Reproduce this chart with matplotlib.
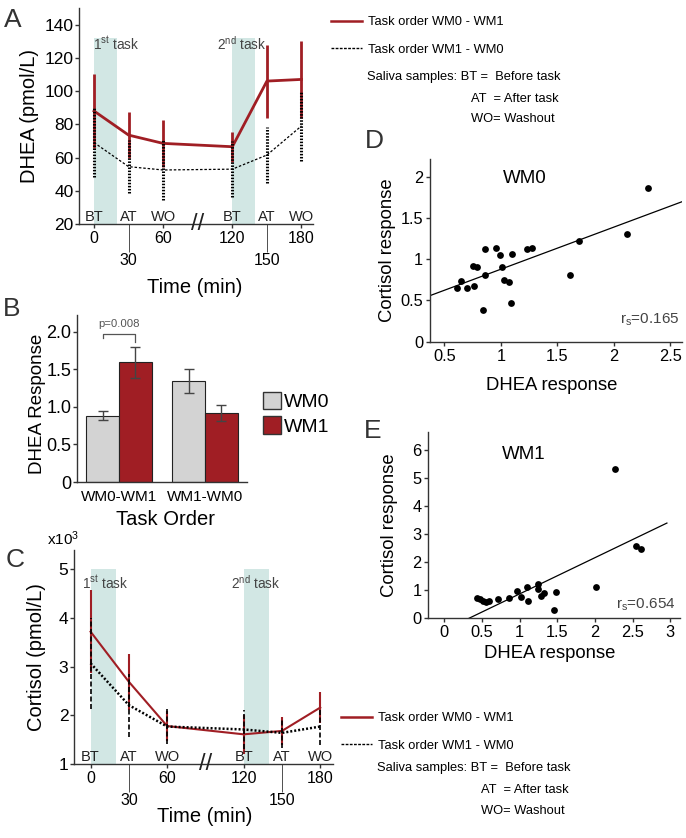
import matplotlib
matplotlib.use("Agg")
import matplotlib.pyplot as plt
import numpy as np
from matplotlib.lines import Line2D
from matplotlib.patches import Patch

plt.rcParams['font.family'] = ['Liberation Sans', 'DejaVu Sans']
plt.rcParams['mathtext.fontset'] = 'custom'
plt.rcParams['mathtext.rm'] = 'Liberation Sans'
plt.rcParams['mathtext.it'] = 'Liberation Sans'

# --- Painel A: DHEA (pmol/L) ao longo do tempo ---
tempos = [0, 30, 60, 120, 150, 180]
amostras = ['BT', 'AT', 'WO', 'BT', 'AT', 'WO']
dhea_wm0_wm1 = [88, 73.5, 68.5, 66.5, 106, 107]
dhea_wm0_wm1_err = [22, 14, 14, 9, 22, 23]
dhea_wm1_wm0 = [69, 54.5, 52.5, 53, 61.5, 79]
dhea_wm1_wm0_err = [21, 16, 18, 17, 17, 21]

# --- Painel B: resposta DHEA por ordem de tarefa ---
ordens = ['WM0-WM1', 'WM1-WM0']
resp_wm0 = [0.88, 1.34]
resp_wm0_err = [0.06, 0.16]
resp_wm1 = [1.59, 0.92]
resp_wm1_err = [0.21, 0.11]

# --- Painel C: cortisol (x10^3 pmol/L) ---
cort_wm0_wm1 = [3.72, 2.69, 1.78, 1.61, 1.68, 2.16]
cort_wm0_wm1_err = [0.85, 0.58, 0.30, 0.40, 0.28, 0.32]
cort_wm1_wm0 = [3.07, 2.21, 1.77, 1.71, 1.64, 1.77]
cort_wm1_wm0_err = [0.94, 0.65, 0.36, 0.41, 0.31, 0.38]

# --- Painel D: WM0, resposta DHEA x cortisol ---
d_dhea = [0.61, 0.65, 0.70, 0.75, 0.79, 0.76, 0.86, 0.86, 0.84, 0.96, 0.99,
          1.01, 1.03, 1.07, 1.10, 1.09, 1.23, 1.28, 1.61, 1.69, 2.12, 2.30]
d_cort = [0.65, 0.73, 0.65, 0.92, 0.91, 0.67, 1.12, 0.81, 0.38, 1.14, 1.05,
          0.91, 0.75, 0.72, 1.06, 0.47, 1.12, 1.14, 0.81, 1.22, 1.30, 1.86]
d_reta_x = [0.37, 2.63]
d_reta_y = [0.557, 1.71]

# --- Painel E: WM1, resposta DHEA x cortisol ---
e_dhea = [0.44, 0.47, 0.51, 0.55, 0.60, 0.72, 0.86, 0.97, 1.02, 1.10, 1.11,
          1.25, 1.25, 1.28, 1.32, 1.49, 1.46, 2.02, 2.26, 2.55, 2.61]
e_cort = [0.72, 0.68, 0.63, 0.57, 0.61, 0.69, 0.74, 0.98, 0.76, 1.13, 0.63,
          1.22, 1.05, 0.81, 0.90, 0.94, 0.30, 1.10, 5.33, 2.59, 2.46]
e_reta_x = [0.33, 2.955]
e_reta_y = [0.0, 3.40]

VERMELHO = '#a01e24'
CINZA = '#d3d3d3'
SOMBRA = '#d2e7e4'
EIXO = '#333333'


def estilo(ax):
    for lado in ['top', 'right']:
        ax.spines[lado].set_visible(False)
    for lado in ['left', 'bottom']:
        ax.spines[lado].set_color(EIXO)
        ax.spines[lado].set_linewidth(1.0)
    ax.tick_params(color=EIXO, width=1.0)


def painel_tempo(ax, y1, e1, y2, e2, ylim, topo_sombra, tarefa_y, lw_verm, estilo_preto):
    ymin, ymax = ylim
    frac = (topo_sombra - ymin) / (ymax - ymin)
    ax.axvspan(0, 20, ymin=0, ymax=frac, color=SOMBRA, lw=0, zorder=0)
    ax.axvspan(120, 140, ymin=0, ymax=frac, color=SOMBRA, lw=0, zorder=0)

    ax.errorbar(tempos, y1, yerr=e1, color=VERMELHO, lw=lw_verm,
                elinewidth=lw_verm, capsize=0, zorder=3)

    y2 = np.array(y2)
    e2 = np.array(e2)
    ax.plot(tempos, y2, color='k', zorder=4, **estilo_preto['linha'])
    ax.vlines(tempos, y2 - e2, y2 + e2, color='k', zorder=4, **estilo_preto['barra'])

    ax.set_xlim(-13, 190)
    ax.set_ylim(ymin, ymax)
    ax.set_xticks([0, 60, 120, 180], labels=['0', '60', '120', '180'])
    ax.set_xticks([30, 150], labels=['30', '150'], minor=True)
    ax.tick_params(axis='x', which='major', length=3, pad=2, labelsize=11.5)
    ax.tick_params(axis='x', which='minor', length=20, pad=1, labelsize=11.5, color=EIXO)
    ax.tick_params(axis='y', length=3, pad=1, labelsize=12.5)

    for t, s in zip(tempos, amostras):
        ax.text(t, ymin, s, ha='center', va='bottom', fontsize=10.5, color='#222222')
    ax.text(90, ymin, '//', ha='center', va='center', fontsize=17, color='#222222')

    ax.text(tarefa_y[0], tarefa_y[2], r'1$^{st}$ task', fontsize=9.8, color='#444444', va='center')
    ax.text(tarefa_y[1], tarefa_y[2], r'2$^{nd}$ task', fontsize=9.8, color='#444444', va='center')
    estilo(ax)


def legenda_tempo(fig, x0, y0, dy_saliva):
    handles = [Line2D([], [], color=VERMELHO, lw=1.8),
               Line2D([], [], color='k', lw=1.0, ls=(0, (2, 1)))]
    fig.legend(handles, ['Task order WM0 - WM1', 'Task order WM1 - WM0'],
               loc='upper left', bbox_to_anchor=(x0 / 686, 1 - y0 / 838),
               frameon=False, fontsize=9.3, handlelength=2.4, handletextpad=0.45,
               labelspacing=1.23, borderpad=0, borderaxespad=0)
    xt = x0 + 36
    ys = [y0 + dy_saliva[0], y0 + dy_saliva[1], y0 + dy_saliva[2]]
    fig.text(xt / 686, 1 - ys[0] / 838, 'Saliva samples: BT =  Before task', fontsize=9.3, va='center')
    fig.text((xt + 104) / 686, 1 - ys[1] / 838, 'AT  = After task', fontsize=9.3, va='center')
    fig.text((xt + 104) / 686, 1 - ys[2] / 838, 'WO= Washout', fontsize=9.3, va='center')


def dispersao(ax, x, y, rx, ry, xlim, ylim, xt, yt, nome, pos_nome, rs, pos_rs):
    ax.scatter(x, y, s=24, color='k', zorder=3, linewidths=0)
    ax.plot(rx, ry, color='k', lw=0.9)
    ax.set_xlim(*xlim)
    ax.set_ylim(*ylim)
    ax.set_xticks(xt, labels=[f'{v:g}' for v in xt])
    ax.set_yticks(yt, labels=[f'{v:g}' for v in yt])
    ax.tick_params(axis='both', length=3, pad=2, labelsize=11.8)
    ax.text(pos_nome[0], pos_nome[1], nome, ha='center', va='center', fontsize=13.5)
    ax.text(pos_rs[0], pos_rs[1], r'r$_\mathrm{s}$=' + rs, transform=ax.transAxes,
            ha='right', va='center', fontsize=11, color='#444444')
    ax.set_ylabel('Cortisol response', fontsize=13.3)
    ax.set_xlabel('DHEA response', fontsize=13.3)
    estilo(ax)


def main():
    fig = plt.figure(figsize=(6.86, 8.38), dpi=100)

    # Painel A
    ax_a = fig.add_axes([0.1152, 0.7327, 0.3411, 0.2578])
    painel_tempo(ax_a, dhea_wm0_wm1, dhea_wm0_wm1_err, dhea_wm1_wm0, dhea_wm1_wm0_err,
                 (20, 150), 132, (-0.5, 107, 128.7), 2.0,
                 {'linha': dict(lw=0.9, ls=(0, (2, 1.5))),
                  'barra': dict(lw=2.2, linestyles=(0, (0.5, 0.5)))})
    ax_a.set_yticks(range(20, 141, 20))
    ax_a.set_ylabel('DHEA (pmol/L)', fontsize=14.5)
    ax_a.yaxis.set_label_coords(-0.172, 0.5)
    ax_a.set_xlabel('Time (min)', fontsize=14.5)
    ax_a.xaxis.set_label_coords(0.496, -0.25)
    legenda_tempo(fig, 331, 16, (61, 83, 103))

    # Painel B
    ax_b = fig.add_axes([0.1122, 0.4248, 0.2474, 0.1993])
    x = np.arange(len(ordens))
    w = 0.38
    ekw = dict(ecolor='#444444', elinewidth=1.0, capsize=3.5, capthick=1.0)
    ax_b.bar(x - w / 2, resp_wm0, w, yerr=resp_wm0_err, color=CINZA,
             edgecolor='#222222', lw=0.8, error_kw=ekw)
    ax_b.bar(x + w / 2, resp_wm1, w, yerr=resp_wm1_err, color=VERMELHO,
             edgecolor='#222222', lw=0.8, error_kw=ekw)
    ax_b.plot([x[0] - w / 2, x[0] - w / 2, x[0] + w / 2, x[0] + w / 2],
              [1.92, 1.97, 1.97, 1.86], color='#555555', lw=0.9)
    ax_b.text(x[0], 2.03, 'p=0.008', ha='center', va='bottom', fontsize=8.2, color='#555555')
    ax_b.set_xlim(-0.49, 1.485)
    ax_b.set_ylim(0, 2.22)
    ax_b.set_xticks(x, labels=ordens)
    ax_b.set_yticks([0, 0.5, 1, 1.5, 2], labels=['0', '0.5', '1.0', '1.5', '2.0'])
    ax_b.tick_params(axis='x', length=0, pad=6, labelsize=11)
    ax_b.tick_params(axis='y', length=3, pad=1, labelsize=13)
    ax_b.set_ylabel('DHEA Response', fontsize=13.5)
    ax_b.yaxis.set_label_coords(-0.182, 0.47)
    ax_b.set_xlabel('Task Order', fontsize=14.5)
    ax_b.xaxis.set_label_coords(0.524, -0.17)
    estilo(ax_b)
    fig.legend([Patch(fc=CINZA, ec='#333333'), Patch(fc=VERMELHO, ec='#333333')], ['WM0', 'WM1'],
               loc='upper left', bbox_to_anchor=(263 / 686, 1 - 392 / 838), frameon=False,
               fontsize=14, handlelength=0.95, handleheight=1.0, handletextpad=0.1,
               labelspacing=0.25, borderpad=0, borderaxespad=0)

    # Painel C
    ax_c = fig.add_axes([0.1079, 0.0883, 0.3775, 0.2554])
    painel_tempo(ax_c, cort_wm0_wm1, cort_wm0_wm1_err, cort_wm1_wm0, cort_wm1_wm0_err,
                 (1, 5.4), 5.0, (-7, 110, 4.72), 1.5,
                 {'linha': dict(lw=1.8, ls=(0, (0.8, 0.8))),
                  'barra': dict(lw=1.2, linestyles=(0, (3, 1.5)))})
    ax_c.set_yticks([1, 2, 3, 4, 5])
    ax_c.text(-0.104, 1.01, r'x10$^3$', transform=ax_c.transAxes, fontsize=11, va='bottom')
    ax_c.set_ylabel('Cortisol (pmol/L)', fontsize=14.5)
    ax_c.yaxis.set_label_coords(-0.108, 0.5)
    ax_c.set_xlabel('Time (min)', fontsize=14.5)
    ax_c.xaxis.set_label_coords(0.506, -0.20)
    legenda_tempo(fig, 341, 712, (56, 78, 99))

    # Painel D
    ax_d = fig.add_axes([0.6268, 0.5922, 0.3669, 0.2177])
    dispersao(ax_d, d_dhea, d_cort, d_reta_x, d_reta_y, (0.373, 2.6), (0, 2.21),
              [0.5, 1, 1.5, 2, 2.5], [0, 0.5, 1, 1.5, 2], 'WM0', (1.215, 1.98),
              '0.165', (0.99, 0.12))
    ax_d.yaxis.set_label_coords(-0.135, 0.5)
    ax_d.xaxis.set_label_coords(0.485, -0.194)

    # Painel E
    ax_e = fig.add_axes([0.6243, 0.2622, 0.3671, 0.2219])
    dispersao(ax_e, e_dhea, e_cort, e_reta_x, e_reta_y, (-0.21, 3.13), (0, 6.64),
              [0, 0.5, 1, 1.5, 2, 2.5, 3], [0, 1, 2, 3, 4, 5, 6], 'WM1', (1.05, 5.84),
              '0.654', (0.98, 0.07))
    ax_e.yaxis.set_label_coords(-0.12, 0.5)
    ax_e.xaxis.set_label_coords(0.483, -0.144)

    # Letras dos painéis
    for letra, px, py in [('A', 13, 20), ('B', 12, 309), ('C', 15, 560), ('D', 374, 141), ('E', 373, 431)]:
        fig.text(px / 686, 1 - py / 838, letra, fontsize=19, color='#333333', ha='center', va='center')

    fig.savefig('out.png', dpi=100)


if __name__ == "__main__":
    main()
